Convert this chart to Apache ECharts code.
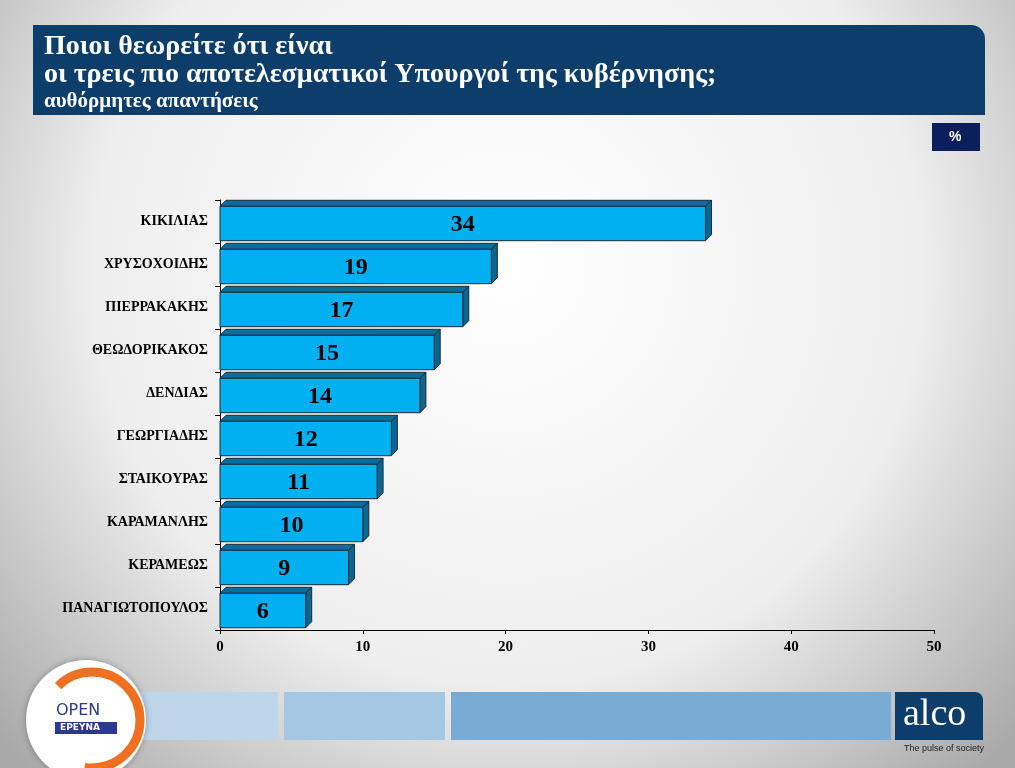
<!DOCTYPE html>
<html><head><meta charset="utf-8">
<script src="https://cdn.jsdelivr.net/npm/echarts@6/dist/echarts.min.js"></script>
<style>html,body{margin:0;padding:0;}#c{width:1015px;height:768px;}</style>
</head><body><div id="c"></div>
<script>
const categories = ['ΚΙΚΙΛΙΑΣ','ΧΡΥΣΟΧΟΙΔΗΣ','ΠΙΕΡΡΑΚΑΚΗΣ','ΘΕΩΔΟΡΙΚΑΚΟΣ','ΔΕΝΔΙΑΣ','ΓΕΩΡΓΙΑΔΗΣ','ΣΤΑΙΚΟΥΡΑΣ','ΚΑΡΑΜΑΝΛΗΣ','ΚΕΡΑΜΕΩΣ','ΠΑΝΑΓΙΩΤΟΠΟΥΛΟΣ'];
const values = [34,19,17,15,14,12,11,10,9,6];
const xTicks = [0,10,20,30,40,50];
const serif = '"Liberation Serif","Times New Roman",serif';
const chart = echarts.init(document.getElementById('c'));
chart.setOption({
  backgroundColor: new echarts.graphic.RadialGradient(0.5,0.35,0.9,[{offset:0,color:'#ffffff'},{offset:0.6,color:'#eeeeee'},{offset:1,color:'#a9a9a9'}]),
  grid:{left:220,right:81,top:200,bottom:138},
  xAxis:{type:'value',min:xTicks[0],max:xTicks[xTicks.length-1],interval:10,
    axisLine:{show:true,lineStyle:{color:'#000'}},axisTick:{show:true,length:4,lineStyle:{color:'#000'}},
    splitLine:{show:false},
    axisLabel:{color:'#000',fontFamily:serif,fontWeight:'bold',fontSize:15,margin:10}},
  yAxis:{type:'category',data:categories,inverse:true,
    axisLine:{show:true,lineStyle:{color:'#000'}},axisTick:{show:true,length:5,lineStyle:{color:'#000'}},
    axisLabel:{color:'#000',fontFamily:serif,fontWeight:'bold',fontSize:14,margin:12}},
  series:[{type:'custom',data:values.map((v,i)=>[v,i]),encode:{x:0,y:1},
    renderItem:function(params,api){
      const v=api.value(0), i=api.value(1);
      const p0=api.coord([0,i]), p1=api.coord([v,i]);
      const band=api.size([0,1])[1];
      const h=band*0.8, d=6;
      const yc=p0[1]+2, yt=yc-h/2, yb=yc+h/2;
      const x0=p0[0], x1=p1[0];
      const st={stroke:'#1b2b3b',lineWidth:1};
      return {type:'group',children:[
        {type:'polygon',shape:{points:[[x0,yt],[x1,yt],[x1+d,yt-d],[x0+d,yt-d]]},style:Object.assign({fill:'#086e9c'},st)},
        {type:'polygon',shape:{points:[[x1,yt],[x1+d,yt-d],[x1+d,yb-d],[x1,yb]]},style:Object.assign({fill:'#086690'},st)},
        {type:'rect',shape:{x:x0,y:yt,width:x1-x0,height:h},style:Object.assign({fill:'#00b0f0'},st)},
        {type:'text',x:(x0+x1)/2,y:yc+1,style:{text:String(v),fill:'#000',font:'bold 24px '+serif,align:'center',verticalAlign:'middle'}}
      ]};
    }}],
  graphic:[
    {type:'rect',left:33,top:25,shape:{width:952,height:90,r:[0,14,0,0]},style:{fill:'#0d3d6b'}},
    {type:'text',left:44,top:33,style:{text:'Ποιοι θεωρείτε ότι είναι',fill:'#fff',font:'bold 28px '+serif}},
    {type:'text',left:44,top:61,style:{text:'οι τρεις πιο αποτελεσματικοί Υπουργοί της κυβέρνησης;',fill:'#fff',font:'bold 28px '+serif}},
    {type:'text',left:44,top:91,style:{text:'αυθόρμητες απαντήσεις',fill:'#fff',font:'bold 21px '+serif}},
    {type:'rect',left:932,top:123,shape:{width:48,height:28},style:{fill:'#0a1f5c'}},
    {type:'text',left:949,top:130,style:{text:'%',fill:'#fff',font:'bold 14px "Liberation Sans",Arial,sans-serif'}},
    {type:'rect',left:140,top:692,shape:{width:138,height:48},style:{fill:'#bed5ea'}},
    {type:'rect',left:284,top:692,shape:{width:161,height:48},style:{fill:'#a4c8e4'}},
    {type:'rect',left:451,top:692,shape:{width:440,height:48},style:{fill:'#78acd5'}},
    {type:'rect',left:895,top:692,shape:{width:88,height:48,r:[0,8,0,0]},style:{fill:'#0d3d6b'}},
    {type:'text',left:903,top:696,style:{text:'alco',fill:'#fff',font:'38px '+serif}},
    {type:'text',left:904,top:744,style:{text:'The pulse of society',fill:'#222',font:'9px "Liberation Sans",Arial,sans-serif'}},
    {type:'circle',shape:{cx:86,cy:720,r:60},style:{fill:'#fff',shadowBlur:6,shadowColor:'rgba(0,0,0,0.3)'}},
    {type:'arc',shape:{cx:92,cy:720,r:48,startAngle:-Math.PI*0.75,endAngle:Math.PI*0.55},style:{stroke:'#f07022',lineWidth:9,fill:null}},
    {type:'text',left:56,top:703,style:{text:'OPEN',fill:'#2b3a8c',font:'16px "DejaVu Sans",sans-serif'}},
    {type:'rect',left:55,top:722,shape:{width:62,height:12},style:{fill:'#2b3a8c'}},
    {type:'text',left:60,top:723,style:{text:'ΕΡΕΥΝΑ',fill:'#fff',font:'bold 9px "DejaVu Sans",sans-serif'}}
  ]
});
</script></body></html>
